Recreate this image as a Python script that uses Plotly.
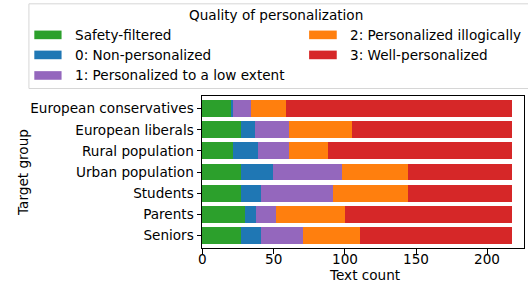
import plotly.graph_objects as go

groups = ["European conservatives", "European liberals", "Rural population",
          "Urban population", "Students", "Parents", "Seniors"]
series_names = ["Safety-filtered", "0: Non-personalized", "1: Personalized to a low extent",
                "2: Personalized illogically", "3: Well-personalized"]
safety = [20, 27, 22, 27, 27, 30, 27]
nonpers = [2, 10, 17, 23, 14, 8, 14]
low = [12, 24, 22, 48, 51, 14, 30]
illogical = [25, 44, 27, 46, 52, 48, 40]
well = [158, 112, 129, 73, 73, 117, 106]
x_ticks = [0, 50, 100, 150, 200]
x_tick_labels = ["0", "50", "100", "150", "200"]

colors = ["#2ca02c", "#1f77b4", "#9467bd", "#ff7f0e", "#d62728"]
values = [safety, nonpers, low, illogical, well]

W, H = 528, 282
L, R, T, B = 201.7, 3.7, 96, 34.3
PW, PH = W - L - R, H - T - B
FONT = "DejaVu Sans"
FS = 13.6

def px(x):
    return (x - L) / PW

def py(y):
    return (H - B - y) / PH

fig = go.Figure()
for name, vals, c in zip(series_names, values, colors):
    fig.add_trace(go.Bar(y=groups, x=vals, name=name, orientation="h",
                         marker=dict(color=c, line=dict(width=0)), width=0.8,
                         showlegend=False))

shapes = []
annotations = []
# legend box
shapes.append(dict(type="rect", xref="paper", yref="paper",
                   x0=px(28.3), x1=px(540), y0=py(88.5), y1=py(4),
                   line=dict(color="#d6d6d6", width=1), fillcolor="rgba(255,255,255,0.8)",
                   layer="above"))
annotations.append(dict(text="Quality of personalization", xref="paper", yref="paper",
                        x=px(276), y=py(15.5), xanchor="center", yanchor="middle",
                        showarrow=False, font=dict(family=FONT, size=FS, color="#000")))
# legend entries: column-major, 3 rows
row_y = [35, 55, 75.5]
col_patch = [(33.7, 61), (309, 336.7)]
col_text = [72.5, 347.5]
for i, (name, c) in enumerate(zip(series_names, colors)):
    col = 0 if i < 3 else 1
    row = i if i < 3 else i - 3
    yc = row_y[row]
    shapes.append(dict(type="rect", xref="paper", yref="paper",
                       x0=px(col_patch[col][0]), x1=px(col_patch[col][1]),
                       y0=py(yc + 4.3), y1=py(yc - 4.3),
                       line=dict(width=0), fillcolor=c, layer="above"))
    annotations.append(dict(text=name, xref="paper", yref="paper",
                            x=px(col_text[col]), y=py(yc), xanchor="left", yanchor="middle",
                            showarrow=False, font=dict(family=FONT, size=FS, color="#000")))

# x tick labels placed on the x axis scale
for v, lab in zip(x_ticks, x_tick_labels):
    annotations.append(dict(text=lab, xref="x", yref="paper", x=v, y=py(259),
                            xanchor="center", yanchor="middle", showarrow=False,
                            font=dict(family=FONT, size=FS, color="#000")))

# axis titles
annotations.append(dict(text="Text count", xref="paper", yref="paper",
                        x=px(364.5), y=py(274.5), xanchor="center", yanchor="middle",
                        showarrow=False, font=dict(family=FONT, size=FS, color="#000")))
annotations.append(dict(text="Target group", xref="paper", yref="paper",
                        x=px(21.7), y=py(172.5), xanchor="center", yanchor="middle",
                        textangle=-90,
                        showarrow=False, font=dict(family=FONT, size=FS, color="#000")))

fig.update_layout(
    width=W, height=H,
    margin=dict(l=L, r=R, t=T, b=B, pad=0, autoexpand=False),
    barmode="stack",
    plot_bgcolor="white", paper_bgcolor="white",
    font=dict(family=FONT, size=FS, color="#000"),
    shapes=shapes, annotations=annotations,
    xaxis=dict(range=[0, 225.6], tickvals=x_ticks, ticks="outside", ticklen=4.5,
               tickwidth=1, tickcolor="#000", showline=True, linecolor="#000",
               linewidth=1, mirror=True, showgrid=False, zeroline=False,
               automargin=False, showticklabels=False),
    yaxis=dict(type="category", categoryorder="array", categoryarray=groups,
               range=[6.6, -0.6], ticks="outside", ticklen=4.5, tickwidth=1,
               tickcolor="#000", showline=True, linecolor="#000", linewidth=1,
               mirror=True, showgrid=False, zeroline=False, automargin=False,
               tickfont=dict(size=FS)),
)

fig.write_html("out.html", config={"displayModeBar": False},
               post_script="document.body.style.margin='0';document.body.style.padding='0';")
